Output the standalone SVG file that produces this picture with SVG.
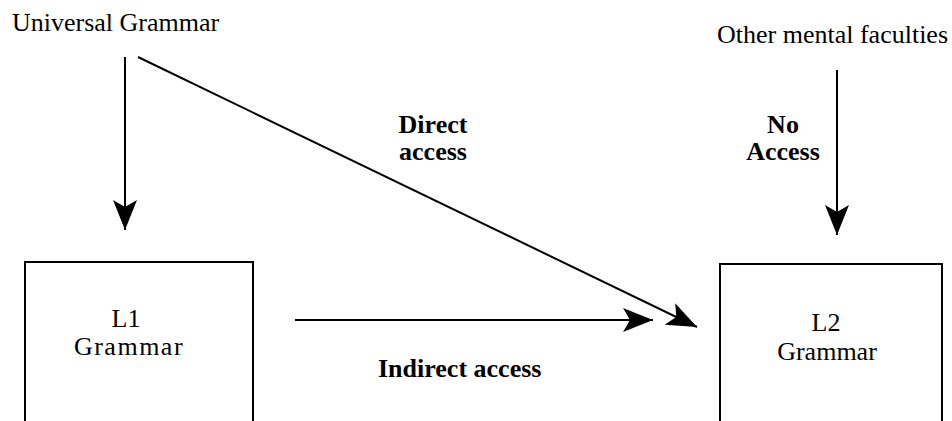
<svg xmlns="http://www.w3.org/2000/svg" width="952" height="421" viewBox="0 0 952 421">
  <style>
    text { font-family: "Liberation Serif", "Times New Roman", "DejaVu Serif", serif; fill: #000; font-size: 26px; }
    .bold { font-weight: bold; }
    .box { fill: #fff; stroke: #000; stroke-width: 2; }
    .line { stroke: #000; stroke-width: 2; fill: none; }
  </style>
  <defs>
    <marker id="head" viewBox="0 0 30 24" refX="30" refY="12" markerWidth="30" markerHeight="24" markerUnits="userSpaceOnUse" orient="auto">
      <path d="M0,0 L30,12 L0,24 L7,12 Z" fill="#000"/>
    </marker>
  </defs>
  <rect width="952" height="421" fill="#fff"/>

  <g id="universal-grammar">
    <text x="12" y="31">Universal Grammar</text>
  </g>
  <g id="other-faculties">
    <text x="717" y="43">Other mental faculties</text>
  </g>

  <g id="l1-grammar">
    <rect class="box" x="25" y="262" width="228" height="170"/>
    <text x="126" y="327" text-anchor="middle" font-size="24">L1</text>
    <text x="129" y="355" text-anchor="middle" font-size="23" letter-spacing="1.5">Grammar</text>
  </g>
  <g id="l2-grammar">
    <rect class="box" x="720" y="264" width="222" height="170"/>
    <text x="826" y="331" text-anchor="middle" font-size="24">L2</text>
    <text x="827" y="360" text-anchor="middle" font-size="25">Grammar</text>
  </g>

  <g id="connectors">
    <line class="line" x1="125" y1="57" x2="125" y2="230" marker-end="url(#head)"/>
    <line class="line" x1="138" y1="57" x2="697" y2="327" marker-end="url(#head)"/>
    <line class="line" x1="295" y1="320" x2="653" y2="320" marker-end="url(#head)"/>
    <line class="line" x1="837" y1="70" x2="837" y2="235" marker-end="url(#head)"/>
  </g>

  <g id="labels">
    <text class="bold" x="433" y="133" text-anchor="middle">Direct</text>
    <text class="bold" x="433" y="160" text-anchor="middle">access</text>
    <text class="bold" x="783" y="133" text-anchor="middle">No</text>
    <text class="bold" x="783" y="160" text-anchor="middle">Access</text>
    <text class="bold" x="378" y="377">Indirect access</text>
  </g>
</svg>
